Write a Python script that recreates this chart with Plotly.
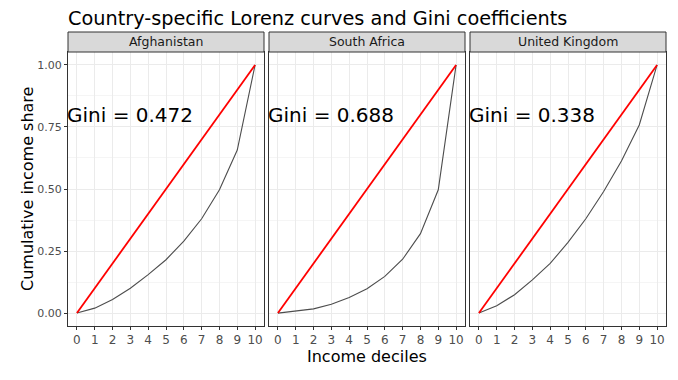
import plotly.graph_objects as go

countries = ["Afghanistan", "South Africa", "United Kingdom"]
deciles = [0, 1, 2, 3, 4, 5, 6, 7, 8, 9, 10]
afghanistan = [0.0, 0.02, 0.055, 0.10, 0.155, 0.215, 0.29, 0.38, 0.497, 0.657, 1.0]
south_africa = [0.0, 0.007, 0.017, 0.036, 0.063, 0.098, 0.148, 0.217, 0.32, 0.497, 1.0]
united_kingdom = [0.0, 0.03, 0.074, 0.134, 0.20, 0.285, 0.38, 0.49, 0.613, 0.758, 1.0]
ginis = ["0.472", "0.688", "0.338"]
equality_x = [0, 10]
equality_y = [0, 1]
y_ticks = [0, 0.25, 0.5, 0.75, 1.0]
y_tick_labels = ["0.00", "0.25", "0.50", "0.75", "1.00"]

series = [afghanistan, south_africa, united_kingdom]

# page body has an 8px margin, so the figure is drawn at (8, 8)
OFF = 8
W, H = 678 - OFF, 380 - OFF
ml, mr, mt, mb = 68 - OFF, 12, 52 - OFF, 54
pw = W - ml - mr
ph = H - mt - mb
panel_px = 196
gap_px = 5

fig = go.Figure()
font = "DejaVu Sans"
shapes = []
annotations = []
for i, (c, vals, g) in enumerate(zip(countries, series, ginis)):
    n = "" if i == 0 else str(i + 1)
    x0 = i * (panel_px + gap_px) / pw
    x1 = x0 + panel_px / pw
    fig.add_trace(go.Scatter(x=deciles, y=vals, mode="lines",
                             line=dict(color="#4D4D4D", width=1.1),
                             xaxis="x" + n, yaxis="y" + n, showlegend=False,
                             hoverinfo="skip"))
    fig.add_trace(go.Scatter(x=equality_x, y=equality_y, mode="lines",
                             line=dict(color="#FF0000", width=1.8),
                             xaxis="x" + n, yaxis="y" + n, showlegend=False,
                             hoverinfo="skip"))
    xa = dict(domain=[x0, x1], range=[-0.5, 10.5], tickmode="array",
              tickvals=deciles, ticktext=[str(d) for d in deciles],
              showgrid=True, gridcolor="#EBEBEB", gridwidth=1,
              zeroline=False, showline=True, mirror=True, linecolor="#333333",
              linewidth=1, ticks="outside", ticklen=3, tickcolor="#333333",
              tickfont=dict(family=font, size=12, color="#4D4D4D"),
              anchor="y" + n)
    ya = dict(domain=[0, 1], range=[-0.052, 1.052], tickmode="array",
              tickvals=y_ticks, ticktext=y_tick_labels,
              showgrid=True, gridcolor="#EBEBEB", gridwidth=1,
              minor=dict(tickvals=[0.125, 0.375, 0.625, 0.875], showgrid=True,
                         gridcolor="#F5F5F5", gridwidth=0.6, ticks=""),
              zeroline=False, showline=True, mirror=True, linecolor="#333333",
              linewidth=1, ticks="outside" if i == 0 else "", ticklen=3,
              tickcolor="#333333", showticklabels=(i == 0),
              tickfont=dict(family=font, size=11, color="#4D4D4D"),
              anchor="x" + n)
    fig.update_layout(**{"xaxis" + n: xa, "yaxis" + n: ya})
    # strip
    shapes.append(dict(type="rect", xref="paper", yref="paper",
                       x0=x0, x1=x1, y0=1, y1=1 + 20 / ph,
                       fillcolor="#D9D9D9", line=dict(color="#333333", width=1)))
    annotations.append(dict(text=c, xref="paper", yref="paper",
                            x=(x0 + x1) / 2, y=1 + 10 / ph, showarrow=False,
                            xanchor="center", yanchor="middle",
                            font=dict(family=font, size=12.5, color="#1A1A1A")))
    annotations.append(dict(text="Gini = " + g, xref="x" + n, yref="y" + n,
                            x=3, y=0.8, showarrow=False, xanchor="center",
                            yanchor="middle",
                            font=dict(family=font, size=20, color="#000000")))

annotations.append(dict(text="Income deciles", xref="paper", yref="paper",
                        x=0.5, y=-30 / ph, showarrow=False, xanchor="center",
                        yanchor="middle", font=dict(family=font, size=16, color="#000000")))
annotations.append(dict(text="Cumulative income share", xref="paper", yref="paper",
                        x=-41 / pw, y=0.5, showarrow=False, textangle=-90,
                        xanchor="center", yanchor="middle",
                        font=dict(family=font, size=16, color="#000000")))

fig.update_layout(
    width=W, height=H,
    margin=dict(l=ml, r=mr, t=mt, b=mb),
    paper_bgcolor="white", plot_bgcolor="white",
    title=dict(text="Country-specific Lorenz curves and Gini coefficients",
               x=ml / W, xanchor="left", y=1 - (18 - OFF) / H, yanchor="middle",
               font=dict(family=font, size=19.3, color="#000000")),
    shapes=shapes, annotations=annotations,
)

fig.write_html("out.html")
